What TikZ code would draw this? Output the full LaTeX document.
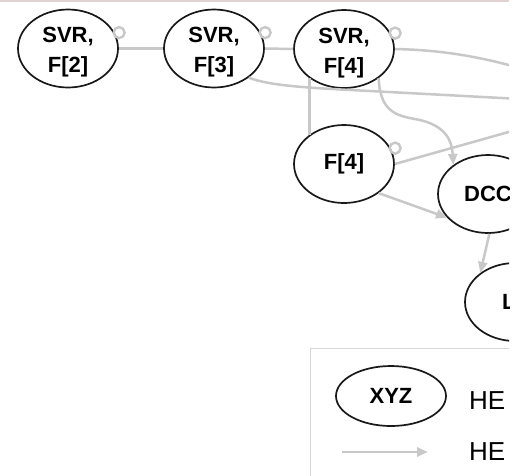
\documentclass[tikz,border=0pt]{standalone}
\usepackage{fontspec}
\setmainfont{Liberation Sans}
\usetikzlibrary{arrows.meta,shapes.geometric,calc}
\definecolor{edgegray}{HTML}{C8C8C8}
\definecolor{boxgray}{HTML}{D6D6D6}
\definecolor{toplinec}{HTML}{E2D2D2}
\begin{document}
\begin{tikzpicture}[x=1pt,y=-1pt,
  st/.style={ellipse,draw=black!90,line width=1.7pt,fill=white,minimum width=100pt,minimum height=78pt,inner sep=0pt,font=\fontsize{22}{30}\selectfont\bfseries,align=center},
  lbl/.style={inner sep=0pt,font=\fontsize{22}{30}\selectfont\bfseries,align=center},
  edge/.style={draw=edgegray,line width=2.5pt},
  arr/.style={edge,-{Triangle[length=11pt,width=9pt]}},
  ring/.style={draw=edgegray,line width=2.4pt},
  legtext/.style={font=\fontsize{26}{30}\selectfont,anchor=base west,inner sep=0pt}]
\useasboundingbox (0,0) rectangle (521,475);
\clip (0,0) rectangle (509,475);
\draw[toplinec,line width=1.5pt] (0,0.75) -- (509,0.75);
% nodes
\node[st] (F2) at (68,48.5) {};
\node[st] (F3) at (214,48.5) {};
\node[st] (F4top) at (344,49) {};
\node[lbl] (F2t) at ($(F2)+(0,4)$) {SVR,\\F[2]};
\node[lbl] (F3t) at ($(F3)+(0,4)$) {SVR,\\F[3]};
\node[lbl] (F4topt) at ($(F4top)+(0,4)$) {SVR,\\F[4]};
\node[st] (F4low) at (344,164) {F[4]};
\node[st] (DCC) at (488,194) {DCC};
\node[st] (L) at (515,302) {L\hphantom{0}};
% legend
\node[draw=boxgray,line width=1.2pt,anchor=north west,minimum width=300pt,minimum height=200pt] (legend) at (310,348) {};
\node[st,minimum width=110pt,minimum height=60pt] (xyz) at (391,396) {XYZ};
\node[legtext] (he1) at (469,409) {HE};
\node[legtext] (he2) at (469,460) {HE};
\coordinate (la) at (342,452);
\coordinate (lb) at (428,452);
\draw[arr] (la) -- (lb);
% free ends off the right edge
\coordinate (r1) at (530,71);
\coordinate (r2) at (530,99.5);
\coordinate (r3) at (530,126);
% edges
\draw[edge] (F3.west) -- (F2.east);
\draw[ring] ($(F2.15)+(3,-3)$) circle (5.5);
\draw[edge] (F4top.west) -- (F3.east);
\draw[ring] ($(F3.15)+(3,-3)$) circle (5.5);
\draw[edge] (F4top.east) .. controls (440,50) and (480,56) .. (r1);
\draw[ring] ($(F4top.15)+(3,-3)$) circle (5.5);
\draw[edge] (F3.-40) .. controls (270,86) and (310,88) .. (370,91) -- (r2);
\draw[edge] (F4top.-140) -- (F4low.140);
\draw[arr] (F4top.-40) .. controls (380,115) and (400,116) .. (420,120) .. controls (445,126) and (452,140) .. (DCC.140);
\draw[edge] (F4low.east) -- (r3);
\draw[ring] ($(F4low.15)+(3,-3)$) circle (5.5);
\draw[arr] (F4low.-40) -- (DCC.-150);
\draw[arr] (DCC.-88) -- (L.140);
\end{tikzpicture}
\end{document}
